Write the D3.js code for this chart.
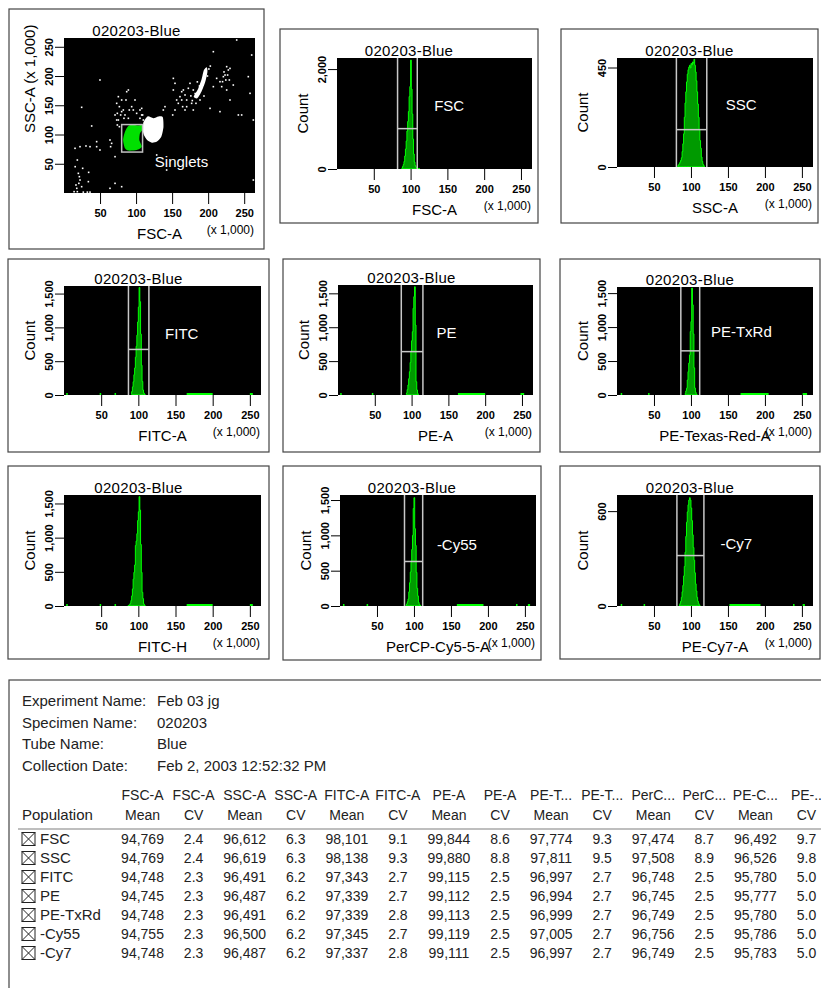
<!DOCTYPE html>
<html>
<head>
<meta charset="UTF-8" />
<script src="https://cdn.jsdelivr.net/npm/d3@7"></script>
<style>
  body { margin: 0; background: #fff; }
  svg { display: block; font-family: 'Liberation Sans', Arial, sans-serif; }
</style>
</head>
<body>
<svg></svg>
<script>
// 1. data (all x values in 1,000s)
const width = 821
const height = 988
const plotTitle = '020203-Blue'
const xTickValues = [50, 100, 150, 200, 250]

// FSC-A vs SSC-A dot plot
const singletsGate = [80, 109, 70, 117] // x0, x1, y0, y1
const greenBlob = [[84.6,104.9],[89.3,114.6],[96.2,116.5],[103.1,115.2],[107.8,116.5],[108.6,107.7],[105.4,102],[104.5,90.6],[107.8,79.2],[100.8,73.5],[89.3,72.5],[84.6,76.4],[82,90.6]]
const whiteBlob = [[110,120],[116,131],[124,128],[131,131],[137,130],[138,113],[135,96],[129,88],[122,86],[115,91],[110,102]]
const whiteStreak = [[180,165],[186,178],[191,195],[194,210],[198,215],[199,207],[196,190],[191,174],[185,162]]
const dotEvents = [
  [15.3,76.4],[22.2,79.2],[30.5,80.4],[36.1,79.2],[18.5,56.4],[15.5,45],[19.9,33.6],[22.2,22.2],
  [16.6,13.7],[24.5,10.8],[18.5,2.3],[26.8,1.5],[32.4,1.5],[36.1,1.5],[14,2.3],[21.3,27.9],
  [25.9,42.2],[34.2,35.3],[33.8,19.4],[45.3,79.2],[49.9,73.5],[45.3,87.8],[38.4,114.6],[17.7,8],
  [20.6,16.5],[63.8,90.6],[66.1,84.9],[64.7,79.2],[70.8,62.1],[70.8,16.5],[24.5,146.5],[49.9,193.2],
  [80,10.8],[128.6,65],[142.4,39.3],[262.7,22.2],[63.8,8],
  [75.4,164.7],[73.1,153.3],[76.8,147.6],[74,136.2],[78.6,133.4],[75.4,124.8],[80,159],[82.3,141.9],
  [83.2,127.7],[86,159],[87,173.2],[89.3,176.1],[90.6,141.9],[93.9,147.6],[96.2,141.9],[100.8,136.2],
  [105.4,141.9],[107.8,144.7],[109.1,133.4],[110.1,124.8],[98.5,159],[73.1,124.8],[76.8,113.4],
  [74,116.3],[70.8,133.4],[80,139.1],[84.6,133.4],[89.3,127.7],[105.4,127.7],[107.8,133.4],
  [150.8,133.4],[154,141.9],[140.1,147.6],[137.8,141.9],
  [151.7,196],[156.3,159],[158.6,153.3],[160.9,164.7],[163.3,173.2],[165.6,176.1],[167.9,167.6],
  [170.2,159],[172.5,179],[174.8,187.5],[177.1,153.3],[179.4,141.9],[170.2,147.6],[164.6,147.6],
  [183.1,153.3],[188.7,159],[194.2,165.8],[202.6,144.7],[207.2,241.6],[216.4,190.3],[218.8,181.8],
  [225.7,176.1],[230.3,159],[221.1,198.9],[223.4,201.7],[228,210.3],[225.7,216],[229.4,193.2],
  [234.9,184.6],[241.9,133.4],[246.5,133.4],[255.7,198.9],[258.1,170.4],[239.6,261.6],[260.4,235.9],
  [262.7,124.8],[216.4,139.1],[207.2,181.8],[211.8,196],[151.7,176.1],[154,187.5],[188.7,181.8],
  [186.8,173.2],[167.9,141.9],[163.3,159],[179.4,176.1],[182.8,164.7],[222,207],[224.5,193.2],
  [220,190.3],[227,201.7],[230.3,213],[178,158],[188,183],[196,203],[201,212],[193,185],[182,170],
  [176,166],[185,190],[199,200],[203,217]
]

// histograms: counts per 1,000-wide bin from the start value
const fscStart = 88
const fscCounts = [20,50,90,150,260,400,560,760,950,1150,1450,1650,2180,1600,1100,600,300,140,70,40,25,15,10,5]
const sscStart = 82
const sscCounts = [5,10,15,22,30,42,70,105,150,225,290,340,385,420,440,452,460,448,468,462,475,470,487,460,430,390,340,285,225,170,120,85,45,25,12,6]
const fitcStart = 91
const fitcCounts = [50,120,196,300,400,560,720,885,1080,1300,1590,1380,900,440,200,74,30,10]
const peStart = 93
const peCounts = [30,80,147,240,344,480,639,800,934,1279,1450,1597,1032,196,74,20]
const txrdStart = 92
const txrdCounts = [20,60,100,220,344,470,590,934,1081,1574,1327,900,400,103,40,12]
const fitcHStart = 86
const fitcHCounts = [5,10,20,40,80,148,250,393,492,600,886,950,1058,1250,1378,1600,1403,900,492,200,108,30,10]
const cy55Start = 89
const cy55Counts = [10,30,60,100,200,330,480,619,800,1000,1380,1533,1094,857,476,250,143,50,20,8]
const cy7Start = 84
const cy7Counts = [5,15,30,55,90,130,190,250,340,440,530,595,640,670,685,670,620,540,450,370,290,210,140,95,55,30,15,6]

// sparse events far from the peak: [from, to, count]
const fitcTail = [[3,5,8],[48,49,8],[68,69,8],[165,200,12],[250,254,12]]
const peTail = [[3,5,8],[46,48,8],[163,200,12],[248,253,12]]
const txrdTail = [[5,7,8],[42,44,8],[167,205,12],[251,257,12]]
const cy55Tail = [[4,6,8],[36,38,8],[158,194,12],[238,240,8],[254,257,10]]
const cy7Tail = [[5,7,3],[36,38,3],[152,194,5],[238,240,3],[251,254,4]]

// interval gates: [from, to, marker count]
const fscGate = [82.3, 109.1, 808]
const sscGate = [80.3, 121.4, 169]
const fitcGate = [86.7, 114.2, 674]
const peGate = [86, 115.4, 640]
const txrdGate = [86.3, 111.8, 650]
const cy55Gate = [87.2, 111.8, 630]
const cy7Gate = [81, 117.5, 319]

// statistics table
const infoLabels = ['Experiment Name:', 'Specimen Name:', 'Tube Name:', 'Collection Date:']
const infoValues = ['Feb 03 jg', '020203', 'Blue', 'Feb 2, 2003 12:52:32 PM']
const statHeaders = ['FSC-A','FSC-A','SSC-A','SSC-A','FITC-A','FITC-A','PE-A','PE-A','PE-T...','PE-T...','PerC...','PerC...','PE-C...','PE-..']
const statKinds = ['Mean','CV','Mean','CV','Mean','CV','Mean','CV','Mean','CV','Mean','CV','Mean','CV']
const populations = ['FSC', 'SSC', 'FITC', 'PE', 'PE-TxRd', '-Cy55', '-Cy7']
const statRows = [
  [94769,2.4,96612,6.3,98101,9.1,99844,8.6,97774,9.3,97474,8.7,96492,9.7],
  [94769,2.4,96619,6.3,98138,9.3,99880,8.8,97811,9.5,97508,8.9,96526,9.8],
  [94748,2.3,96491,6.2,97343,2.7,99115,2.5,96997,2.7,96748,2.5,95780,5.0],
  [94745,2.3,96487,6.2,97339,2.7,99112,2.5,96994,2.7,96745,2.5,95777,5.0],
  [94748,2.3,96491,6.2,97339,2.8,99113,2.5,96999,2.7,96749,2.5,95780,5.0],
  [94755,2.3,96500,6.2,97345,2.7,99119,2.5,97005,2.7,96756,2.5,95786,5.0],
  [94748,2.3,96487,6.2,97337,2.8,99111,2.5,96997,2.7,96749,2.5,95783,5.0]
]

// 2. layout of the nine plots
const histPanels = [
  { frame: [280, 29, 538, 223], plot: [337, 58, 532, 169], xLabel: 'FSC-A', start: fscStart, counts: fscCounts, tail: [], yMax: 2222, yTicks: [0, 2000], gate: fscGate, label: 'FSC', labelAt: [132, 0.43] },
  { frame: [561, 29, 818, 223], plot: [617, 58, 813, 167], xLabel: 'SSC-A', start: sscStart, counts: sscCounts, tail: [], yMax: 493, yTicks: [0, 450], gate: sscGate, label: 'SSC', labelAt: [147, 0.43] },
  { frame: [8, 259, 269, 452], plot: [64, 286, 261, 395], xLabel: 'FITC-A', start: fitcStart, counts: fitcCounts, tail: fitcTail, yMax: 1612, yTicks: [0, 500, 1000, 1500], gate: fitcGate, label: 'FITC', labelAt: [136, 0.44] },
  { frame: [283, 259, 540, 452], plot: [338, 285, 533, 395], xLabel: 'PE-A', start: peStart, counts: peCounts, tail: peTail, yMax: 1623, yTicks: [0, 500, 1000, 1500], gate: peGate, label: 'PE', labelAt: [134, 0.44] },
  { frame: [560, 259, 820, 452], plot: [617, 287, 813, 395], xLabel: 'PE-Texas-Red-A', start: txrdStart, counts: txrdCounts, tail: txrdTail, yMax: 1590, yTicks: [0, 500, 1000, 1500], gate: txrdGate, label: 'PE-TxRd', labelAt: [127, 0.42] },
  { frame: [8, 466, 269, 659], plot: [64, 495, 261, 606], xLabel: 'FITC-H', start: fitcHStart, counts: fitcHCounts, tail: fitcTail, yMax: 1624, yTicks: [0, 500, 1000, 1500], gate: null },
  { frame: [283, 466, 541, 660], plot: [340, 495, 536, 606], xLabel: 'PerCP-Cy5-5-A', start: cy55Start, counts: cy55Counts, tail: cy55Tail, yMax: 1571, yTicks: [0, 500, 1000, 1500], gate: cy55Gate, label: '-Cy55', labelAt: [131, 0.45] },
  { frame: [560, 466, 820, 659], plot: [617, 495, 813, 606], xLabel: 'PE-Cy7-A', start: cy7Start, counts: cy7Counts, tail: cy7Tail, yMax: 702, yTicks: [0, 600], gate: cy7Gate, label: '-Cy7', labelAt: [140, 0.44] }
]
const dotPanel = { frame: [9, 9, 264, 249], plot: [64, 38, 255, 193] }

const tickFont = "'Liberation Sans Narrow', 'Liberation Sans', Arial, sans-serif"
const lime = '#00ff00'

const svg = d3.select('svg').attr('width', width).attr('height', height)

function framePanel(p) {
  const [x0, y0, x1, y1] = p.frame
  svg.append('rect')
    .attr('x', x0).attr('y', y0).attr('width', x1 - x0).attr('height', y1 - y0)
    .attr('fill', 'none').attr('stroke', '#444').attr('stroke-width', 1.2)
  const g = svg.append('g')
  g.append('rect')
    .attr('x', p.plot[0]).attr('y', p.plot[1])
    .attr('width', p.plot[2] - p.plot[0]).attr('height', p.plot[3] - p.plot[1])
    .attr('fill', '#000')
  g.append('text')
    .attr('x', (x0 + x1) / 2).attr('y', p.plot[1] - 2)
    .attr('text-anchor', 'middle').attr('font-size', 15).attr('letter-spacing', 0.3)
    .text(plotTitle)
  return g
}

function drawAxes(g, p, x, y, yTicks, xLabel, yLabel) {
  const [l, t, r, b] = p.plot
  g.append('g').attr('transform', `translate(0,${b})`)
    .call(d3.axisBottom(x).tickValues(xTickValues).tickSize(11).tickPadding(5).tickFormat(d3.format('d')))
    .call(a => a.select('.domain').remove())
    .call(a => a.selectAll('text').attr('font-family', tickFont).attr('font-weight', 'bold').attr('font-size', 11).attr('fill', '#000'))
  g.append('g').attr('transform', `translate(${l},0)`)
    .call(d3.axisLeft(y).tickValues(yTicks).tickSize(9).tickFormat(d3.format(',')))
    .call(a => a.select('.domain').remove())
    .call(a => a.selectAll('text')
      .attr('transform', 'rotate(-90)').attr('x', 0).attr('y', -11).attr('dy', null)
      .attr('text-anchor', 'middle')
      .attr('font-family', tickFont).attr('font-weight', 'bold').attr('font-size', 11).attr('fill', '#000'))
  g.append('text')
    .attr('x', (l + r) / 2).attr('y', b + 46)
    .attr('text-anchor', 'middle').attr('font-size', 15)
    .text(xLabel)
  g.append('text')
    .attr('x', r - 1).attr('y', b + 41)
    .attr('text-anchor', 'end').attr('font-size', 12)
    .text('(x 1,000)')
  g.append('text')
    .attr('transform', yLabel.centred
      ? `translate(${l - 29},${(t + b) / 2}) rotate(-90)`
      : `translate(${l - 29},${b - 60}) rotate(-90)`)
    .attr('text-anchor', yLabel.centred ? 'middle' : 'start')
    .attr('font-size', 15)
    .text(yLabel.text)
}

// 3. dot plot
{
  const p = dotPanel
  const g = framePanel(p)
  const x = d3.scaleLinear([0, 265], [p.plot[0], p.plot[2]])
  const y = d3.scaleLinear([0, 265], [p.plot[3], p.plot[1]])
  const blob = d3.line().x(d => x(d[0])).y(d => y(d[1])).curve(d3.curveCardinalClosed.tension(0.3))
  g.append('path').attr('d', blob(whiteBlob)).attr('fill', '#fff')
  g.append('path').attr('d', blob(whiteStreak)).attr('fill', '#fff')
  g.selectAll('rect.ev')
    .data(dotEvents)
    .join('rect')
    .attr('class', 'ev')
    .attr('x', d => x(d[0]) - 0.8).attr('y', d => y(d[1]) - 0.8)
    .attr('width', 1.6).attr('height', 1.6)
    .attr('fill', '#fff')
  g.append('path').attr('d', blob(greenBlob)).attr('fill', '#00e000')
  const [gx0, gx1, gy0, gy1] = singletsGate
  g.append('rect')
    .attr('x', x(gx0)).attr('y', y(gy1))
    .attr('width', x(gx1) - x(gx0)).attr('height', y(gy0) - y(gy1))
    .attr('fill', 'none').attr('stroke', '#c0c0c0').attr('stroke-width', 1.5)
  g.append('text')
    .attr('x', x(126)).attr('y', y(44))
    .attr('fill', '#fff').attr('font-size', 15)
    .text('Singlets')
  drawAxes(g, p, x, y, [50, 100, 150, 200, 250], 'FSC-A', { text: 'SSC-A (x 1,000)', centred: false })
}

// 4. histograms
histPanels.forEach((p, i) => {
  const g = framePanel(p)
  const x = d3.scaleLinear([0, 265], [p.plot[0], p.plot[2]])
  const y = d3.scaleLinear([0, p.yMax], [p.plot[3], p.plot[1]])
  const clipId = 'clip' + i
  g.append('clipPath').attr('id', clipId)
    .append('rect')
    .attr('x', p.plot[0]).attr('y', p.plot[1])
    .attr('width', p.plot[2] - p.plot[0]).attr('height', p.plot[3] - p.plot[1])
  const inner = g.append('g').attr('clip-path', `url(#${clipId})`)

  const bins = p.counts.map((c, k) => [p.start + k, c])
  bins.push([p.start + p.counts.length, 0])
  const area = d3.area()
    .x(d => x(d[0]))
    .y0(y(0) - 0.5)
    .y1(d => y(d[1]))
    .curve(d3.curveStepAfter)
  inner.append('path')
    .attr('d', area(bins))
    .attr('fill', '#009a00').attr('stroke', lime).attr('stroke-width', 1)

  inner.selectAll('rect.tail')
    .data(p.tail)
    .join('rect')
    .attr('class', 'tail')
    .attr('x', d => x(d[0])).attr('width', d => Math.max(1.5, x(d[1]) - x(d[0])))
    .attr('y', d => Math.min(y(d[2]), y(0) - 2)).attr('height', d => Math.max(2, y(0) - y(d[2])))
    .attr('fill', lime)

  if (p.gate) {
    const [lo, hi, level] = p.gate
    const gg = inner.append('g').attr('stroke', '#c8c8c8').attr('stroke-width', 1.5)
    gg.append('line').attr('x1', x(lo)).attr('x2', x(lo)).attr('y1', p.plot[1]).attr('y2', p.plot[3])
    gg.append('line').attr('x1', x(hi)).attr('x2', x(hi)).attr('y1', p.plot[1]).attr('y2', p.plot[3])
    gg.append('line').attr('x1', x(lo)).attr('x2', x(hi)).attr('y1', y(level)).attr('y2', y(level))
  }
  if (p.label) {
    g.append('text')
      .attr('x', x(p.labelAt[0]))
      .attr('y', p.plot[1] + p.labelAt[1] * (p.plot[3] - p.plot[1]) + 5)
      .attr('fill', '#fff').attr('font-size', 15)
      .text(p.label)
  }
  drawAxes(g, p, x, y, p.yTicks, p.xLabel, { text: 'Count', centred: true })
})

// 5. statistics table
{
  const t = svg.append('g').attr('font-size', 14).attr('fill', '#222')
  t.append('rect')
    .attr('x', 9).attr('y', 680).attr('width', 830).attr('height', 330)
    .attr('fill', 'none').attr('stroke', '#444').attr('stroke-width', 1.2)
  t.selectAll('text.info-l')
    .data(infoLabels)
    .join('text')
    .attr('x', 22).attr('y', (d, i) => 706 + i * 21.5)
    .attr('font-size', 15)
    .text(d => d)
  t.selectAll('text.info-v')
    .data(infoValues)
    .join('text')
    .attr('x', 157).attr('y', (d, i) => 706 + i * 21.5)
    .attr('font-size', 15)
    .text(d => d)

  const col = d3.scaleBand().domain(d3.range(statHeaders.length)).range([117, 832])
  const cx = i => col(i) + col.bandwidth() / 2
  const rowY = d3.scalePoint().domain(populations).range([844, 958])
  t.selectAll('text.h1')
    .data(statHeaders)
    .join('text')
    .attr('x', (d, i) => cx(i)).attr('y', 800).attr('text-anchor', 'middle')
    .text(d => d)
  t.append('text').attr('x', 22).attr('y', 820).attr('font-size', 15).text('Population')
  t.selectAll('text.h2')
    .data(statKinds)
    .join('text')
    .attr('x', (d, i) => cx(i)).attr('y', 820).attr('text-anchor', 'middle')
    .text(d => d)
  t.append('line')
    .attr('x1', 18).attr('x2', 821).attr('y1', 829).attr('y2', 829)
    .attr('stroke', '#a8a8a8').attr('stroke-width', 1.5)

  const fmtMean = d3.format(',d')
  const fmtCv = d3.format('.1f')
  const rows = t.selectAll('g.row')
    .data(populations)
    .join('g')
    .attr('transform', d => `translate(0,${rowY(d)})`)
  rows.append('rect')
    .attr('x', 22).attr('y', -11.5).attr('width', 13).attr('height', 13)
    .attr('fill', 'none').attr('stroke', '#222').attr('stroke-width', 1)
  rows.append('path')
    .attr('d', 'M22,-11.5L35,1.5M35,-11.5L22,1.5')
    .attr('stroke', '#222').attr('stroke-width', 1)
  rows.append('text').attr('x', 40).attr('font-size', 15).text(d => d)
  rows.selectAll('text.v')
    .data((d, i) => statRows[i])
    .join('text')
    .attr('class', 'v')
    .attr('x', (d, j) => cx(j)).attr('text-anchor', 'middle')
    .text((d, j) => (j % 2 === 0 ? fmtMean(d) : fmtCv(d)))
}
</script>
</body>
</html>
